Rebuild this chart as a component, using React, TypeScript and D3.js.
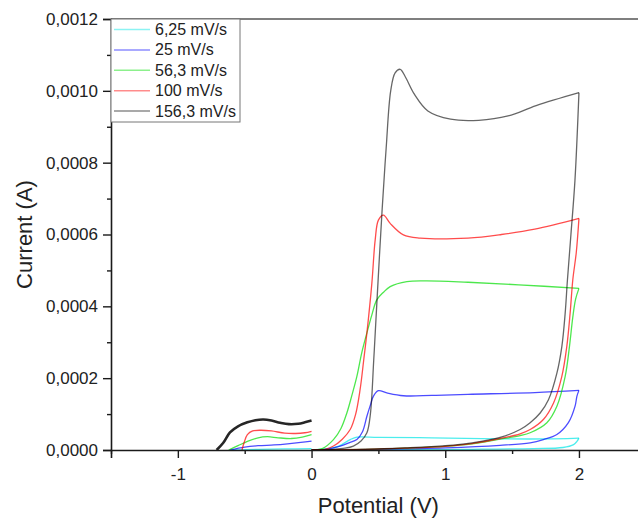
import { useRef, useEffect } from 'react'
import * as d3 from 'd3'

const W = 638
const H = 524
const MARGIN = { top: 19, left: 111, bottom: 74 }
const X_DOMAIN: [number, number] = [-1.5, 2.5]
const Y_DOMAIN: [number, number] = [0, 0.0012]
const X_TICKS = [-1, 0, 1, 2]
const X_MINOR = [-1.5, -0.5, 0.5, 1.5, 2.5]
const Y_TICKS = [0, 0.0002, 0.0004, 0.0006, 0.0008, 0.001, 0.0012]
const Y_MINOR = [0.0001, 0.0003, 0.0005, 0.0007, 0.0009, 0.0011]

const SERIES_NAMES = ['6,25 mV/s', '25 mV/s', '56,3 mV/s', '100 mV/s', '156,3 mV/s']
const SERIES_COLORS = ['#00e5e5', '#0000ff', '#00dd00', '#ff0000', '#000000']

// [potential V, current A]; forward scan up to 2 V, then the return
const cyanFwd = [
  [0, 0], [0.1, 0.000003], [0.2, 0.00001], [0.289, 0.000029], [0.339, 0.000036], [0.5, 0.000035],
  [0.9, 0.000034], [1.4, 0.000031], [1.8, 0.000031], [2.0, 0.000033],
]
const cyanRev = [
  [2.0, 0.000033], [1.985, 0.000024], [1.96, 0.000015], [1.88, 0.000007], [1.66, 0.000004],
  [1.2, 0.000002], [0.6, 0.000001], [0, 0],
]
const cyanNeg = [[-0.6, 0], [-0.4, 0.000002], [-0.2, 0.000003], [0, 0.000004]]

const blueFwd = [
  [0, 0], [0.1, 0.000002], [0.214, 0.000011], [0.28, 0.00002], [0.339, 0.000029], [0.38, 0.00005],
  [0.414, 0.000094], [0.44, 0.000125], [0.463, 0.00015], [0.5, 0.000165], [0.563, 0.000159],
  [0.687, 0.000151], [0.9, 0.000152], [1.17, 0.000155], [1.67, 0.00016], [2.0, 0.000166],
]
const blueRev = [
  [2.0, 0.000166], [1.985, 0.00015], [1.971, 0.000122], [1.921, 0.000076], [1.835, 0.000043],
  [1.734, 0.000029], [1.635, 0.00002], [1.41, 0.000013], [1.0, 0.000006], [0.5, 0.000002], [0, 0],
]
const blueNeg = [
  [-0.61, 0], [-0.5, 0.000008], [-0.4, 0.000012], [-0.28, 0.000014], [-0.18, 0.000017],
  [-0.08, 0.000021], [0, 0.000025],
]

const greenFwd = [
  [0, 0], [0.08, 0.000004], [0.164, 0.000029], [0.22, 0.00006], [0.264, 0.000103], [0.3, 0.00015],
  [0.339, 0.000205], [0.375, 0.00027], [0.414, 0.000326], [0.45, 0.000375], [0.488, 0.000418],
  [0.54, 0.00044], [0.588, 0.000455], [0.713, 0.000469], [0.86, 0.000471], [1.17, 0.000467],
  [1.55, 0.00046], [2.0, 0.00045],
]
const greenRev = [
  [2.0, 0.00045], [1.975, 0.00042], [1.954, 0.00037], [1.929, 0.000288], [1.897, 0.000205],
  [1.835, 0.000122], [1.76, 0.000076], [1.635, 0.000048], [1.56, 0.00004], [1.41, 0.00003],
  [1.2, 0.000017], [1.0, 0.00001], [0.7, 0.000005], [0.4, 0.000002], [0, 0],
]
const greenNeg = [
  [-0.62, 0], [-0.55, 0.000012], [-0.48, 0.000024], [-0.4, 0.000034], [-0.33, 0.000037],
  [-0.25, 0.000034], [-0.15, 0.000032], [-0.07, 0.000036], [0, 0.000043],
]

const redFwd = [
  [0, 0], [0.1, 0.000002], [0.164, 0.000011], [0.23, 0.00003], [0.289, 0.000057], [0.33, 0.0001],
  [0.363, 0.000168], [0.39, 0.00025], [0.414, 0.000326], [0.451, 0.000464], [0.476, 0.000585],
  [0.5, 0.00064], [0.538, 0.000654], [0.588, 0.000631], [0.687, 0.000599], [0.812, 0.00059],
  [1.17, 0.00059], [1.42, 0.0006], [1.67, 0.000615], [2.0, 0.000645],
]
const redRev = [
  [2.0, 0.000645], [1.98, 0.00055], [1.954, 0.000474], [1.934, 0.000381], [1.909, 0.000288],
  [1.872, 0.000205], [1.81, 0.000131], [1.734, 0.000085], [1.635, 0.000057], [1.56, 0.000045],
  [1.41, 0.000032], [1.2, 0.000018], [1.0, 0.00001], [0.7, 0.000005], [0.4, 0.000002], [0, 0],
]
const redNeg = [
  [-0.52, 0], [-0.505, 0.00002], [-0.48, 0.000043], [-0.44, 0.000053], [-0.38, 0.000055],
  [-0.3, 0.000053], [-0.2, 0.000047], [-0.12, 0.000046], [-0.05, 0.000048], [0, 0.000052],
]

const blackFwd = [
  [0, 0], [0.15, 0.000002], [0.25, 0.000005], [0.313, 0.000011], [0.37, 0.000025],
  [0.414, 0.000048], [0.44, 0.0001], [0.465, 0.00025], [0.49, 0.00042], [0.528, 0.00067],
  [0.558, 0.00084], [0.592, 0.001], [0.625, 0.00105], [0.663, 0.00106],
  [0.7, 0.00104], [0.77, 0.00099], [0.87, 0.000944], [1.04, 0.000921], [1.25, 0.000918],
  [1.47, 0.00093], [1.68, 0.000959], [2.0, 0.000995],
]
const blackRev = [
  [2.0, 0.000995], [1.97, 0.00075], [1.94, 0.0006], [1.914, 0.000474], [1.897, 0.000381],
  [1.872, 0.000288], [1.835, 0.000214], [1.772, 0.00014], [1.71, 0.000103], [1.635, 0.000076],
  [1.56, 0.000057], [1.41, 0.000035], [1.2, 0.00002], [1.0, 0.000012], [0.7, 0.000006],
  [0.4, 0.000002], [0, 0],
]
const blackNeg = [
  [-0.71, 0], [-0.66, 0.00002], [-0.61, 0.000049], [-0.55, 0.000066], [-0.48, 0.000077],
  [-0.42, 0.000083], [-0.36, 0.000085], [-0.3, 0.000082], [-0.235, 0.000076], [-0.17, 0.000072],
  [-0.1, 0.000073], [-0.05, 0.000077], [0, 0.000082],
]

const FWD = [cyanFwd, blueFwd, greenFwd, redFwd, blackFwd]
const REV = [cyanRev, blueRev, greenRev, redRev, blackRev]
const NEGS = [cyanNeg, blueNeg, greenNeg, redNeg, blackNeg]

const fmtY = (v: number) => d3.format('.4f')(v).replace('.', ',')

export default function App() {
  const ref = useRef<SVGSVGElement>(null)

  useEffect(() => {
    const svg = d3.select(ref.current)
    svg.selectAll('*').remove()
    const font = '"Liberation Sans", Arial, sans-serif'

    // 1 V ~ 133.7 px, domain runs past the right edge of the picture
    const x = d3.scaleLinear().domain(X_DOMAIN).range([MARGIN.left, MARGIN.left + 4 * 133.7])
    const y = d3.scaleLinear().domain(Y_DOMAIN).range([H - MARGIN.bottom, MARGIN.top])

    const line = d3.line<number[]>()
      .x(d => x(d[0])).y(d => y(d[1]))
      .curve(d3.curveCatmullRom.alpha(0.5))

    const g = svg.append('g')
    FWD.forEach((_, i) => {
      ;[FWD[i], REV[i]].forEach(pts => {
        g.append('path').datum(pts).attr('d', line)
          .attr('fill', 'none').attr('stroke', SERIES_COLORS[i])
          .attr('stroke-width', 1.3).attr('stroke-opacity', i === 4 ? 0.6 : 0.7)
      })
    })
    NEGS.forEach((pts, i) => {
      g.append('path').datum(pts).attr('d', line)
        .attr('fill', 'none').attr('stroke', SERIES_COLORS[i])
        .attr('stroke-width', i === 4 ? 2.6 : 1.3).attr('stroke-opacity', i === 4 ? 0.85 : 0.7)
    })

    const axisColor = '#1a1a1a'
    // top frame line
    svg.append('line')
      .attr('x1', x(X_DOMAIN[0])).attr('x2', W)
      .attr('y1', y(Y_DOMAIN[1])).attr('y2', y(Y_DOMAIN[1]))
      .attr('stroke', '#555').attr('stroke-width', 1.6)

    const yAxis = svg.append('g').attr('transform', `translate(${x(X_DOMAIN[0])},0)`)
    yAxis.call(d3.axisLeft(y).tickValues(Y_TICKS).tickFormat(d => fmtY(d as number)).tickSize(8).tickPadding(5))
    yAxis.selectAll('text').attr('font-family', font).attr('font-size', 17).attr('fill', '#222')
    yAxis.append('g').call(d3.axisLeft(y).tickValues(Y_MINOR).tickFormat(() => '').tickSize(4))
      .call(a => a.select('.domain').remove())
    yAxis.selectAll('.domain').attr('stroke', axisColor).attr('stroke-width', 1.6)
    yAxis.selectAll('.tick line').attr('stroke', axisColor).attr('stroke-width', 1.4)

    const xAxis = svg.append('g').attr('transform', `translate(0,${y(0)})`)
    xAxis.call(d3.axisBottom(x).tickValues(X_TICKS)
      .tickFormat(d => ((d as number) < 0 ? '-' + Math.abs(d as number) : String(d)))
      .tickSize(8).tickPadding(10))
    xAxis.selectAll('text').attr('font-family', font).attr('font-size', 17).attr('fill', '#222')
    xAxis.append('g').call(d3.axisBottom(x).tickValues(X_MINOR).tickFormat(() => '').tickSize(4))
      .call(a => a.select('.domain').remove())
    xAxis.selectAll('.domain').attr('stroke', axisColor).attr('stroke-width', 1.6)
    xAxis.selectAll('.tick line').attr('stroke', axisColor).attr('stroke-width', 1.4)

    svg.append('text')
      .attr('x', (x(X_DOMAIN[0]) + x(X_DOMAIN[1])) / 2).attr('y', 513)
      .attr('text-anchor', 'middle').attr('font-family', font).attr('font-size', 22).attr('fill', '#222')
      .text('Potential (V)')
    svg.append('text')
      .attr('transform', `translate(32,${(y(0) + y(Y_DOMAIN[1])) / 2}) rotate(-90)`)
      .attr('text-anchor', 'middle').attr('font-family', font).attr('font-size', 22).attr('fill', '#222')
      .text('Current (A)')

    // legend
    const lg = svg.append('g').attr('transform', `translate(${x(X_DOMAIN[0])},${y(Y_DOMAIN[1])})`)
    lg.append('rect').attr('x', 0).attr('y', 0).attr('width', 129).attr('height', 103)
      .attr('fill', 'white').attr('stroke', '#777').attr('stroke-width', 1)
    SERIES_NAMES.forEach((name, i) => {
      const cy = 10.5 + i * 20.4
      lg.append('line').attr('x1', 3).attr('x2', 39).attr('y1', cy).attr('y2', cy)
        .attr('stroke', SERIES_COLORS[i]).attr('stroke-width', 1.5).attr('stroke-opacity', 0.45)
      lg.append('text').attr('x', 44).attr('y', cy + 5.5)
        .attr('font-family', font).attr('font-size', 16).attr('fill', '#222').text(name)
    })
  }, [])

  return (
    <div style={{ position: 'absolute', left: 0, top: 0, width: W, height: H, background: 'white', overflow: 'hidden' }}>
      <svg ref={ref} width={W} height={H} style={{ display: 'block' }} />
    </div>
  )
}
